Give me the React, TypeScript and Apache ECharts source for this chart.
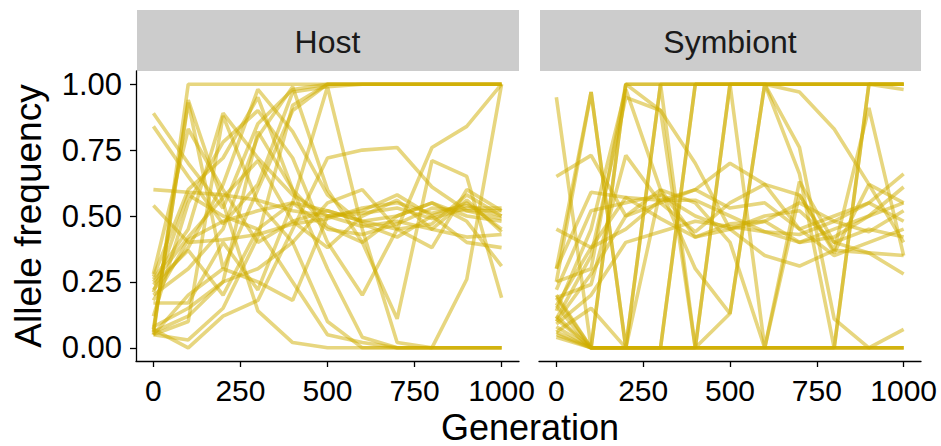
import React, { useEffect, useRef } from "react";
import * as echarts from "echarts";

const generations = [0, 100, 200, 300, 400, 500, 600, 700, 800, 900, 1000];
const xTicks = [0, 250, 500, 750, 1000];
const yTicks = [0, 0.25, 0.5, 0.75, 1];
const panels = ["Host", "Symbiont"];

const hostLines: number[][] = [
  [0.05, 1.0, 1.0, 1.0, 1.0, 1.0, 1.0, 1.0, 1.0, 1.0, 1.0],
  [0.06, 0.94, 0.55, 0.14, 0.02, 0.0, 0.0, 0.0, 0.0, 0.0, 0.0],
  [0.07, 0.93, 0.3, 0.6, 0.9, 1.0, 1.0, 1.0, 1.0, 1.0, 1.0],
  [0.89, 0.7, 0.53, 0.85, 0.98, 1.0, 1.0, 1.0, 1.0, 1.0, 1.0],
  [0.84, 0.65, 0.47, 0.62, 0.97, 0.99, 1.0, 1.0, 1.0, 1.0, 1.0],
  [0.6, 0.59, 0.58, 0.56, 0.52, 0.5, 0.51, 0.53, 0.49, 0.53, 0.53],
  [0.54, 0.4, 0.41, 0.43, 0.47, 0.49, 0.53, 0.55, 0.51, 0.54, 0.5],
  [0.28, 0.83, 0.6, 0.4, 0.48, 0.52, 0.48, 0.5, 0.55, 0.5, 0.48],
  [0.26, 0.45, 0.89, 0.72, 0.58, 0.5, 0.46, 0.48, 0.45, 0.56, 0.44],
  [0.22, 0.38, 0.62, 0.98, 0.82, 0.58, 0.47, 0.42, 0.5, 0.4, 0.38],
  [0.2, 0.3, 0.45, 0.8, 0.99, 0.6, 0.4, 0.11, 0.71, 0.65, 0.19],
  [0.17, 0.17, 0.4, 0.22, 0.55, 0.99, 0.45, 0.02, 0.0, 0.26, 1.0],
  [0.07, 0.0, 0.12, 0.18, 0.45, 0.72, 0.75, 0.76, 0.61, 0.52, 0.52],
  [0.06, 0.12, 0.25, 0.3, 0.4, 0.55, 0.6, 0.45, 0.76, 0.84, 1.0],
  [0.05, 0.2, 0.3, 0.25, 0.18, 0.5, 0.52, 0.58, 0.5, 0.55, 0.45],
  [0.25, 0.42, 0.57, 0.71, 0.48, 0.38, 0.5, 0.56, 0.45, 0.42, 0.43],
  [0.08, 0.15, 0.25, 0.82, 0.6, 0.46, 0.4, 0.5, 0.55, 0.48, 0.31],
  [0.05, 0.1, 0.88, 0.55, 0.4, 0.1, 0.0, 0.0, 0.0, 0.0, 0.0],
  [0.18, 0.41, 0.48, 0.52, 0.55, 0.52, 0.48, 0.45, 0.47, 0.58, 0.5],
  [0.24, 0.37, 0.2, 0.45, 0.25, 0.05, 0.02, 0.0, 0.0, 0.0, 0.0],
  [0.12, 0.55, 0.78, 0.9, 0.72, 0.4, 0.2, 0.45, 0.38, 0.6, 0.52],
  [0.05, 0.03, 0.15, 0.42, 0.92, 1.0, 1.0, 1.0, 1.0, 1.0, 1.0],
  [0.27, 0.6, 0.72, 0.95, 0.6, 0.3, 0.04, 0.0, 0.0, 0.0, 0.0],
  [0.21, 0.58, 0.5, 0.45, 0.55, 0.45, 0.43, 0.47, 0.53, 0.52, 0.49],
];

const symbiontLines: number[][] = [
  [0.04, 0.0, 0.0, 0.0, 0.0, 0.0, 0.0, 0.0, 0.0, 0.0, 0.0],
  [0.11, 0.0, 0.0, 0.0, 0.0, 0.0, 0.0, 0.0, 0.0, 0.0, 0.0],
  [0.95, 0.0, 0.0, 0.0, 0.0, 0.0, 0.0, 0.0, 0.0, 0.0, 0.0],
  [0.16, 0.0, 1.0, 1.0, 1.0, 1.0, 1.0, 1.0, 1.0, 1.0, 1.0],
  [0.19, 0.0, 1.0, 1.0, 1.0, 1.0, 1.0, 1.0, 1.0, 1.0, 1.0],
  [0.08, 0.0, 0.0, 0.0, 1.0, 1.0, 1.0, 1.0, 1.0, 1.0, 1.0],
  [0.06, 0.0, 0.0, 0.0, 1.0, 1.0, 1.0, 1.0, 1.0, 1.0, 1.0],
  [0.25, 0.97, 0.0, 1.0, 1.0, 1.0, 1.0, 1.0, 1.0, 1.0, 1.0],
  [0.65, 0.73, 0.5, 0.6, 0.42, 0.47, 0.48, 0.4, 0.45, 0.5, 0.55],
  [0.45, 0.38, 0.57, 0.56, 0.56, 0.5, 0.44, 0.43, 0.48, 0.55, 0.48],
  [0.3, 0.59, 0.57, 0.49, 0.42, 0.45, 0.5, 0.52, 0.4, 0.45, 0.42],
  [0.19, 0.24, 0.73, 0.55, 0.44, 0.55, 0.62, 0.58, 0.36, 0.62, 0.4],
  [0.16, 0.38, 0.45, 0.56, 0.6, 0.53, 0.55, 0.45, 0.5, 0.55, 0.66],
  [0.11, 0.35, 0.95, 0.9, 0.7, 0.45, 0.35, 0.31, 0.37, 0.36, 0.35],
  [0.09, 0.2, 0.4, 0.44, 0.48, 0.46, 0.44, 0.4, 0.42, 0.5, 0.61],
  [0.06, 0.15, 0.0, 0.6, 0.3, 0.13, 1.0, 0.76, 0.11, 0.0, 0.07],
  [0.2, 0.0, 0.0, 0.0, 0.0, 1.0, 0.0, 0.63, 0.4, 0.36, 0.28],
  [0.3, 0.97, 0.0, 1.0, 0.0, 1.0, 1.0, 0.97, 0.83, 0.62, 0.55],
  [0.25, 0.3, 1.0, 0.9, 0.0, 0.13, 1.0, 0.66, 0.0, 1.0, 1.0],
  [0.14, 0.45, 0.98, 0.6, 0.55, 0.4, 0.0, 0.58, 0.37, 0.91, 0.35],
  [0.12, 0.0, 0.0, 0.0, 0.0, 0.0, 0.0, 0.0, 0.0, 1.0, 0.98],
  [0.1, 0.28, 0.5, 0.55, 0.6, 0.7, 0.62, 0.45, 0.35, 0.4, 0.45],
  [0.22, 0.52, 0.55, 0.58, 0.5, 0.45, 0.48, 0.55, 0.48, 0.44, 0.52],
  [0.05, 0.0, 0.0, 0.0, 0.0, 0.0, 0.0, 0.0, 0.0, 0.0, 0.0],
];

const FONT = "'Liberation Sans', Arial, Helvetica, sans-serif";

export default function App() {
  const ref = useRef<HTMLDivElement>(null);

  useEffect(() => {
    document.body.style.margin = "0";
    if (!ref.current) return;
    const chart = echarts.init(ref.current, null, { renderer: "svg" });

    const grids = [
      { left: 136, top: 71, width: 383, height: 290 },
      { left: 539, top: 71, width: 382, height: 290 },
    ];

    const xAxes = grids.map((_, i) => ({
      type: "value",
      gridIndex: i,
      min: -50,
      max: 1050,
      axisLine: { show: true, onZero: false, lineStyle: { color: "#000", width: 1.3 } },
      axisTick: { show: true, customValues: xTicks, length: 6, lineStyle: { color: "#000", width: 1.3 } },
      axisLabel: {
        customValues: xTicks,
        fontSize: 30,
        color: "#000",
        fontFamily: FONT,
        margin: 14,
        formatter: (v: number) => String(v),
      },
      splitLine: { show: false },
    }));

    const yAxes = grids.map((_, i) => ({
      type: "value",
      gridIndex: i,
      min: -0.05,
      max: 1.05,
      axisLine: { show: i === 0, onZero: false, lineStyle: { color: "#000", width: 1.3 } },
      axisTick: { show: i === 0, customValues: yTicks, length: 6, lineStyle: { color: "#000", width: 1.3 } },
      axisLabel: {
        show: i === 0,
        customValues: yTicks,
        fontSize: 31,
        color: "#000",
        fontFamily: FONT,
        margin: 14,
        formatter: (v: number) => v.toFixed(2),
      },
      splitLine: { show: false },
    }));

    const mkSeries = (lines: number[][], idx: number) =>
      lines.map((vals) => ({
        type: "line",
        xAxisIndex: idx,
        yAxisIndex: idx,
        data: generations.map((g, k) => [g, vals[k]]),
        showSymbol: false,
        silent: true,
        lineStyle: { color: "rgb(207,173,0)", opacity: 0.5, width: 3.6 },
      }));

    const graphic: any[] = [];
    grids.forEach((g, i) => {
      graphic.push({
        type: "rect",
        shape: { x: g.left + 1, y: 10, width: g.width - 1, height: 61 },
        style: { fill: "#cccccc" },
        silent: true,
      });
      graphic.push({
        type: "text",
        x: g.left + g.width / 2,
        y: 42,
        style: {
          text: panels[i],
          fontSize: 32,
          fontFamily: FONT,
          fill: "#1a1a1a",
          align: "center",
          verticalAlign: "middle",
        },
        silent: true,
      });
    });
    graphic.push({
      type: "text",
      x: 530,
      y: 427,
      style: {
        text: "Generation",
        fontSize: 36,
        fontFamily: FONT,
        fill: "#000",
        align: "center",
        verticalAlign: "middle",
      },
      silent: true,
    });
    graphic.push({
      type: "text",
      x: 28,
      y: 216,
      rotation: Math.PI / 2,
      style: {
        text: "Allele frequency",
        fontSize: 37,
        fontFamily: FONT,
        fill: "#000",
        align: "center",
        verticalAlign: "middle",
      },
      silent: true,
    });

    chart.setOption({
      animation: false,
      backgroundColor: "#ffffff",
      grid: grids,
      xAxis: xAxes,
      yAxis: yAxes,
      series: [...mkSeries(hostLines, 0), ...mkSeries(symbiontLines, 1)],
      graphic,
    });

    return () => chart.dispose();
  }, []);

  return <div ref={ref} style={{ width: 941, height: 446 }} />;
}
